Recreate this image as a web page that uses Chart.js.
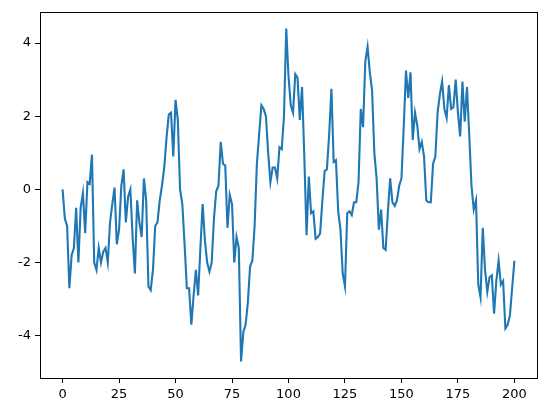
<!DOCTYPE html>
<html><head><meta charset="utf-8">
<script src="https://cdn.jsdelivr.net/npm/chart.js@4/dist/chart.umd.min.js"></script>
<style>html,body{margin:0;padding:0;background:#fff}#wrap{width:546px;height:413px}</style>
</head><body><div id="wrap"><canvas id="c" width="546" height="413"></canvas></div>
<script>
const values = [0.0,-0.8,-1.0,-2.7,-1.8,-1.6,-0.5,-2.0,-0.5,-0.1,
-1.2,0.2,0.15,0.95,-2.0,-2.2,-1.6,-2.0,-1.7,-1.6,
-2.0,-0.9,-0.4,0.05,-1.5,-1.1,0.1,0.55,-0.9,-0.2,
0.0,-1.3,-2.3,-0.3,-0.9,-1.3,0.3,-0.3,-2.65,-2.75,
-2.2,-1.0,-0.9,-0.3,0.1,0.6,1.4,2.05,2.1,0.9,
2.45,1.9,0.0,-0.4,-1.5,-2.7,-2.7,-3.7,-2.9,-2.2,
-2.9,-1.6,-0.4,-1.4,-2.0,-2.25,-2.0,-0.8,-0.05,0.1,
1.3,0.7,0.65,-1.05,-0.15,-0.4,-2.0,-1.3,-1.6,-4.7,
-3.9,-3.7,-3.1,-2.1,-1.95,-1.0,0.7,1.5,2.3,2.2,
2.0,1.0,0.2,0.6,0.6,0.3,1.15,1.1,2.0,4.4,
3.1,2.3,2.1,3.15,3.05,1.9,2.8,0.9,-1.25,0.35,
-0.65,-0.6,-1.35,-1.3,-1.2,-0.3,0.5,0.55,1.5,2.75,
0.75,0.8,-0.6,-1.1,-2.3,-2.65,-0.65,-0.6,-0.7,-0.35,
-0.35,0.2,2.2,1.7,3.5,3.9,3.2,2.7,1.0,0.3,
-1.1,-0.55,-1.6,-1.65,-0.6,0.3,-0.35,-0.45,-0.3,0.1,
0.3,1.7,3.25,2.5,3.2,1.35,2.1,1.75,1.1,1.3,
0.9,-0.3,-0.35,-0.35,0.7,0.9,2.1,2.6,2.95,2.2,
1.95,2.85,2.2,2.25,3.0,2.1,1.45,2.95,1.85,2.8,
1.5,0.1,-0.55,-0.3,-2.6,-2.95,-1.05,-2.2,-2.8,-2.4,
-2.35,-3.4,-2.5,-1.95,-2.6,-2.5,-3.8,-3.7,-3.45,-2.7,
-1.95];
const xTicks = [0,25,50,75,100,125,150,175,200];
const yTicks = [-4,-2,0,2,4];

const points = values.map((v,i)=>({x:i,y:v}));
const vmin = Math.min(...values), vmax = Math.max(...values);
const ypad = (vmax-vmin)*0.05;

const frame = {id:'frame', afterDraw(ch){const a=ch.chartArea,c=ch.ctx;c.save();c.strokeStyle='#000';c.lineWidth=1;c.strokeRect(Math.round(a.left)+0.5,Math.round(a.top)+0.5,Math.round(a.right-a.left),Math.round(a.bottom-a.top));c.restore();}};

new Chart(document.getElementById('c'),{
  type:'line',
  data:{datasets:[{data:points,borderColor:'#1f77b4',borderWidth:2.1,pointRadius:0,tension:0,fill:false}]},
  options:{
    responsive:false,animation:false,
    layout:{padding:{top:10,right:9,left:0,bottom:0}},
    plugins:{legend:{display:false},tooltip:{enabled:false}},
    scales:{
      x:{type:'linear',min:-10,max:210,
        afterBuildTicks(s){s.ticks=xTicks.map(v=>({value:v}));},
        afterFit(s){s.height=35;},
        grid:{drawOnChartArea:false,tickLength:5,color:'#000',tickColor:'#000'},
        border:{display:false},
        ticks:{color:'#000',font:{family:'DejaVu Sans',size:13},padding:4,maxRotation:0}},
      y:{type:'linear',min:vmin-ypad,max:vmax+ypad,
        afterBuildTicks(s){s.ticks=yTicks.map(v=>({value:v}));},
        afterFit(s){s.width=40;},
        grid:{drawOnChartArea:false,tickLength:5,color:'#000',tickColor:'#000'},
        border:{display:false},
        ticks:{color:'#000',font:{family:'DejaVu Sans',size:13},padding:4}}
    }
  },
  plugins:[frame]
});
</script></body></html>
